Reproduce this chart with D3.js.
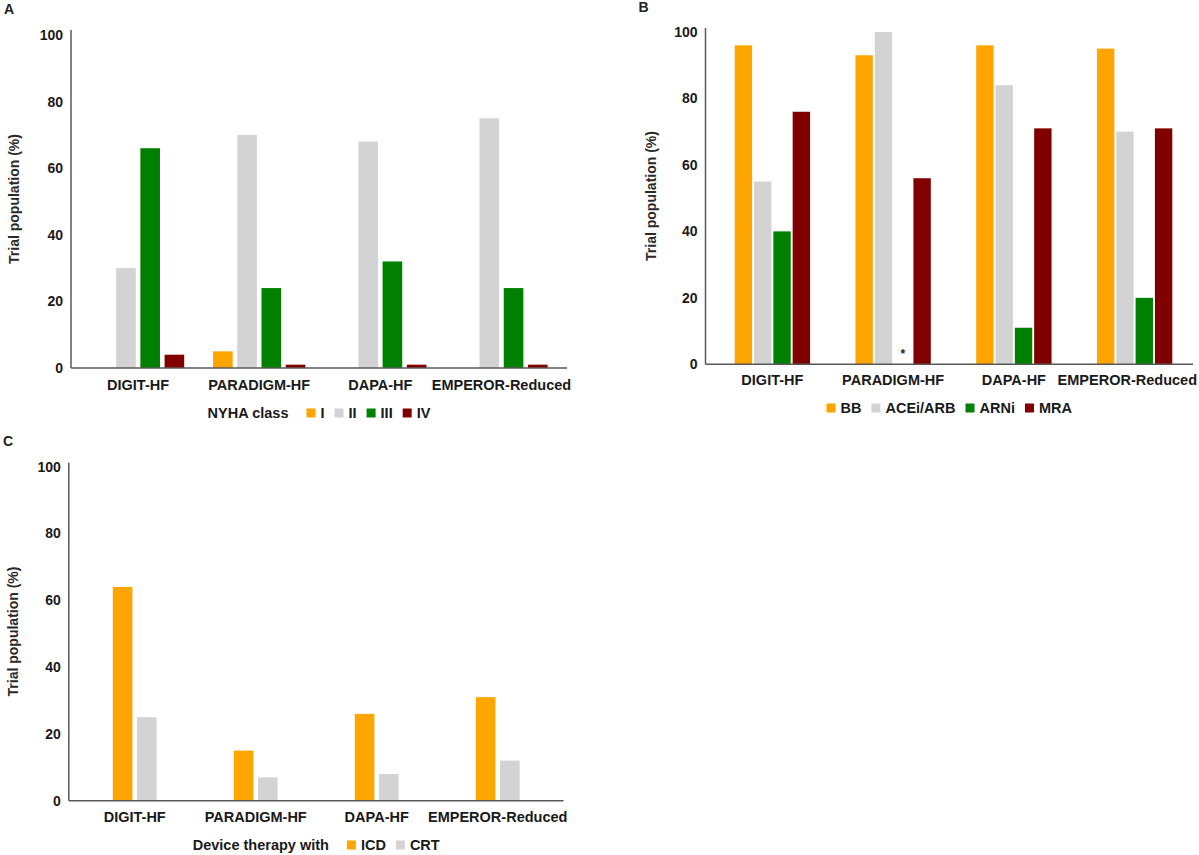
<!DOCTYPE html>
<html>
<head>
<meta charset="utf-8">
<script src="https://cdn.jsdelivr.net/npm/d3@7"></script>
<style>
  body { margin: 0; background: #fff; }
  svg { font-family: "Liberation Sans", Arial, sans-serif; }
</style>
</head>
<body>
<svg id="chart" width="1199" height="855"></svg>
<script>
// trial names shared by all three panels
var trials = ["DIGIT-HF", "PARADIGM-HF", "DAPA-HF", "EMPEROR-Reduced"];
var yTicks = [0, 20, 40, 60, 80, 100];

// Panel A: NYHA class (%)
var nyhaKeys = ["I", "II", "III", "IV"];
var nyhaI   = [0, 5, 0, 0];
var nyhaII  = [30, 70, 68, 75];
var nyhaIII = [66, 24, 32, 24];
var nyhaIV  = [4, 1, 1, 1];

// Panel B: medication (%)
var medKeys = ["BB", "ACEi/ARB", "ARNi", "MRA"];
var medBB   = [96, 93, 96, 95];
var medACE  = [55, 100, 84, 70];
var medARNi = [40, 0, 11, 20];
var medMRA  = [76, 56, 71, 71];

// Panel C: device therapy (%)
var devKeys = ["ICD", "CRT"];
var devICD = [64, 15, 26, 31];
var devCRT = [25, 7, 8, 12];

var colors = ["#FFA500", "#D3D3D3", "#008000", "#800000"];

var svg = d3.select("#chart");

function drawPanel(p) {
  var g = svg.append("g");

  // panel letter
  g.append("text").attr("x", p.letterX).attr("y", p.letterY)
    .attr("font-size", 14).attr("font-weight", "bold").attr("fill", "#222")
    .text(p.letter);

  var x = d3.scaleBand().domain(trials).range(p.xRange);
  var y = d3.scaleLinear().domain([0, 100]).range(p.yRange);

  var pitch = x.bandwidth() * p.pitch;
  var n = p.keys.length;
  var xSub = d3.scaleBand().domain(p.keys)
    .range([-n * pitch / 2, n * pitch / 2])
    .paddingInner(p.pad).paddingOuter(p.pad / 2);

  // bars
  p.series.forEach(function (vals, si) {
    g.selectAll(null).data(vals).enter().append("rect")
      .attr("x", function (d, i) { return x(trials[i]) + x.bandwidth() / 2 + xSub(p.keys[si]); })
      .attr("width", xSub.bandwidth())
      .attr("y", function (d) { return y(d); })
      .attr("height", function (d) { return y(0) - y(d); })
      .attr("fill", colors[si]);
  });

  // axes lines
  g.append("line").attr("x1", p.axisX).attr("x2", p.axisX)
    .attr("y1", p.axisTop).attr("y2", y(0))
    .attr("stroke", "#595959").attr("stroke-width", 1.5);
  g.append("line").attr("x1", p.axisX).attr("x2", p.axisEnd)
    .attr("y1", y(0)).attr("y2", y(0))
    .attr("stroke", "#595959").attr("stroke-width", 1.5);

  // y tick labels
  var yAxis = d3.axisLeft(y).tickValues(yTicks).tickSize(0).tickPadding(8);
  var ya = g.append("g").attr("transform", "translate(" + p.axisX + ",0)").call(yAxis);
  ya.select(".domain").remove();
  ya.selectAll("text").attr("font-size", 14).attr("font-weight", "bold")
    .attr("fill", "#1a1a1a").attr("font-family", "Liberation Sans, Arial, sans-serif");

  // x category labels
  var xAxis = d3.axisBottom(x).tickSize(0).tickPadding(0);
  var xa = g.append("g").attr("transform", "translate(0," + (p.catY - 5) + ")").call(xAxis);
  xa.select(".domain").remove();
  xa.selectAll("text").attr("font-size", 14.5).attr("font-weight", "bold")
    .attr("fill", "#1a1a1a").attr("font-family", "Liberation Sans, Arial, sans-serif");
  // keep labels inside the page (last label is pushed left like in the source)
  xa.selectAll(".tick").each(function () {
    var t = d3.select(this).select("text").node();
    var b = t.getBBox();
    var tr = d3.select(this).attr("transform").match(/translate\(([-\d.]+)/);
    var cx = +tr[1];
    if (cx + b.x + b.width > 1197) {
      d3.select(t).attr("dx", 1197 - (cx + b.x + b.width));
    }
  });

  // y title
  g.append("text")
    .attr("transform", "translate(" + p.titleX + "," + p.titleY + ") rotate(-90)")
    .attr("text-anchor", "middle").attr("font-size", 14).attr("font-weight", "bold")
    .attr("fill", "#2a2a2a")
    .text("Trial population (%)");

  // legend
  var lg = g.append("g");
  var cx = 0;
  if (p.legendTitle) {
    var t = lg.append("text").attr("x", 0).attr("y", p.legendY + 5)
      .attr("font-size", 14.5).attr("font-weight", "bold").attr("fill", "#1a1a1a")
      .text(p.legendTitle);
    cx = t.node().getComputedTextLength() + 18;
  }
  p.keys.forEach(function (k, i) {
    lg.append("rect").attr("x", cx).attr("y", p.legendY - 4.5)
      .attr("width", 9).attr("height", 9).attr("fill", colors[i]);
    var lt = lg.append("text").attr("x", cx + 14).attr("y", p.legendY + 5)
      .attr("font-size", 14.5).attr("font-weight", "bold").attr("fill", "#1a1a1a")
      .text(k);
    cx += 14 + lt.node().getComputedTextLength() + 10;
  });
  var lw = cx - 10;
  var mid = (p.axisX + p.axisEnd) / 2;
  lg.attr("transform", "translate(" + (mid - lw / 2) + ",0)");

  return { g: g, x: x, y: y, xSub: xSub };
}

drawPanel({
  letter: "A", letterX: 4, letterY: 14,
  keys: nyhaKeys, series: [nyhaI, nyhaII, nyhaIII, nyhaIV],
  xRange: [77.5, 562], yRange: [368, 35],
  axisX: 71, axisTop: 30, axisEnd: 567,
  pitch: 0.2, pad: 0.19,
  catY: 385, titleX: 18.5, titleY: 199, legendTitle: "NYHA class", legendY: 413
});

var pb = drawPanel({
  letter: "B", letterX: 638.5, letterY: 12,
  keys: medKeys, series: [medBB, medACE, medARNi, medMRA],
  xRange: [712, 1195], yRange: [364.3, 32],
  axisX: 705.5, axisTop: 28, axisEnd: 1193,
  pitch: 0.16, pad: 0.1,
  catY: 380, titleX: 655.5, titleY: 196, legendTitle: null, legendY: 408
});

// asterisk for PARADIGM-HF ARNi (not applicable)
pb.g.append("text")
  .attr("x", pb.x("PARADIGM-HF") + pb.x.bandwidth() / 2 + pb.xSub("ARNi") + pb.xSub.bandwidth() / 2)
  .attr("y", pb.y(0) - 6)
  .attr("text-anchor", "middle").attr("font-size", 12).attr("font-weight", "bold")
  .attr("fill", "#222").text("*");

drawPanel({
  letter: "C", letterX: 3, letterY: 446,
  keys: devKeys, series: [devICD, devCRT],
  xRange: [74.2, 558.2], yRange: [800.7, 466.7],
  axisX: 68.8, axisTop: 462.7, axisEnd: 563.6,
  pitch: 0.2, pad: 0.19,
  catY: 816.7, titleX: 17.5, titleY: 631.5, legendTitle: "Device therapy with", legendY: 845
});
</script>
</body>
</html>
